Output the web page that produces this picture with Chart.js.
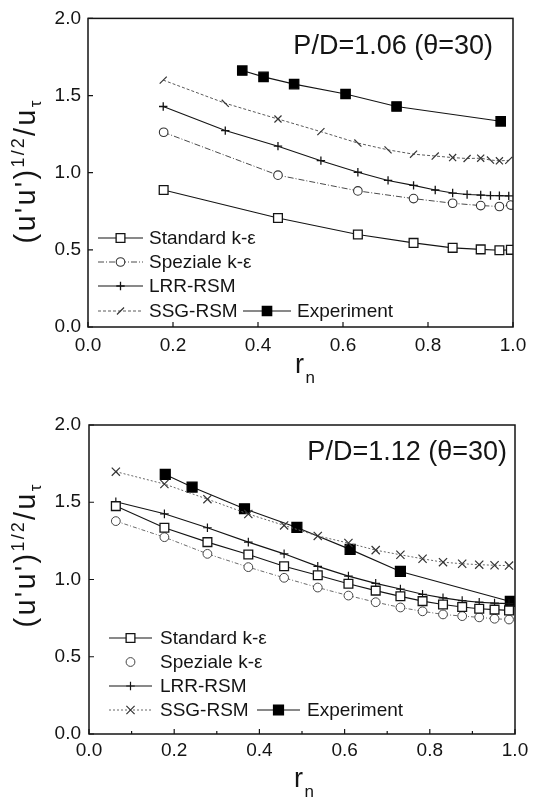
<!DOCTYPE html>
<html>
<head>
<meta charset="utf-8">
<script src="https://cdn.jsdelivr.net/npm/chart.js@4.4.1/dist/chart.umd.min.js"></script>
<style>
html,body{margin:0;padding:0;background:#fff;}
.wrap{position:absolute;left:0;width:536px;height:400px;}
canvas{display:block;}
</style>
</head>
<body>
<div class="wrap" style="top:0px"><canvas id="c1" width="536" height="400"></canvas></div>
<div class="wrap" style="top:400px"><canvas id="c2" width="536" height="400"></canvas></div>
<script>
// ---------------- DATA ----------------
const seriesNames = ["Standard k-\u03b5", "Speziale k-\u03b5", "LRR-RSM", "SSG-RSM", "Experiment"];
const xTicks = [0.0, 0.2, 0.4, 0.6, 0.8, 1.0];
const yTicks = [0.0, 0.5, 1.0, 1.5, 2.0];
const topTitle = "P/D=1.06 (\u03b8=30)";
const botTitle = "P/D=1.12 (\u03b8=30)";

// Top panel (P/D = 1.06)
const topKeR   = [0.178, 0.447, 0.635, 0.766, 0.858, 0.924, 0.968, 0.995];
const topStdV  = [0.888, 0.706, 0.600, 0.545, 0.513, 0.503, 0.497, 0.500];
const topSpzV  = [1.262, 0.984, 0.882, 0.832, 0.802, 0.787, 0.781, 0.790];
const topRsmR  = [0.177, 0.323, 0.447, 0.548, 0.635, 0.706, 0.766, 0.817, 0.858, 0.892, 0.924, 0.947, 0.968, 0.990];
const topLrrV  = [1.429, 1.273, 1.172, 1.078, 1.003, 0.950, 0.918, 0.888, 0.868, 0.859, 0.855, 0.852, 0.851, 0.850];
const topSsgV  = [1.600, 1.450, 1.348, 1.266, 1.192, 1.148, 1.120, 1.108, 1.098, 1.092, 1.094, 1.082, 1.077, 1.080];
const topExpR  = [0.363, 0.413, 0.485, 0.606, 0.726, 0.971];
const topExpV  = [1.662, 1.621, 1.574, 1.510, 1.429, 1.333];

// Bottom panel (P/D = 1.12)
const botR     = [0.063, 0.177, 0.278, 0.374, 0.458, 0.537, 0.609, 0.673, 0.731, 0.783, 0.831, 0.876, 0.916, 0.952, 0.986];
const botStdV  = [1.475, 1.335, 1.242, 1.162, 1.086, 1.027, 0.972, 0.928, 0.891, 0.860, 0.838, 0.822, 0.811, 0.805, 0.800];
const botSpzV  = [1.378, 1.274, 1.166, 1.080, 1.011, 0.948, 0.896, 0.853, 0.819, 0.794, 0.774, 0.763, 0.755, 0.746, 0.741];
const botLrrV  = [1.503, 1.425, 1.335, 1.242, 1.166, 1.085, 1.022, 0.975, 0.938, 0.904, 0.881, 0.863, 0.853, 0.847, 0.844];
const botSsgV  = [1.698, 1.618, 1.520, 1.424, 1.350, 1.282, 1.236, 1.190, 1.160, 1.134, 1.112, 1.102, 1.096, 1.092, 1.090];
const botExpR  = [0.179, 0.242, 0.365, 0.488, 0.613, 0.731, 0.989];
const botExpV  = [1.680, 1.598, 1.458, 1.337, 1.195, 1.052, 0.858];

// ---------------- HELPERS ----------------
const FONT = '"Liberation Sans", Arial, Helvetica, sans-serif';
const INK = '#141414';
const pts = (xs, ys) => xs.map((x, i) => ({x: x, y: ys[i]}));

function marker(ctx, style, x, y, r, fill, stroke, lw, rot) {
  ctx.save();
  ctx.lineWidth = lw; ctx.strokeStyle = stroke; ctx.fillStyle = fill; ctx.setLineDash([]);
  ctx.beginPath();
  if (style === 'rect') { const s = r * Math.SQRT1_2; ctx.rect(x - s, y - s, 2 * s, 2 * s); ctx.fill(); ctx.stroke(); }
  else if (style === 'circle') { ctx.arc(x, y, r, 0, 2 * Math.PI); ctx.fill(); ctx.stroke(); }
  else if (style === 'cross') { ctx.moveTo(x - r, y); ctx.lineTo(x + r, y); ctx.moveTo(x, y - r); ctx.lineTo(x, y + r); ctx.stroke(); }
  else if (style === 'crossRot') { const d = r * Math.SQRT1_2; ctx.moveTo(x - d, y - d); ctx.lineTo(x + d, y + d); ctx.moveTo(x - d, y + d); ctx.lineTo(x + d, y - d); ctx.stroke(); }
  else if (style === 'line') { const a = (rot || 0) * Math.PI / 180; const dx = Math.cos(a) * r, dy = Math.sin(a) * r; ctx.moveTo(x - dx, y - dy); ctx.lineTo(x + dx, y + dy); ctx.stroke(); }
  ctx.restore();
}

function drawParts(ctx, parts, x, y, spacing, measureOnly) {
  let cx = x;
  parts.forEach(p => {
    ctx.font = p.w + ' ' + p.f + 'px ' + FONT;
    for (const ch of p.t) {
      if (!measureOnly) ctx.fillText(ch, cx, y + (p.dy || 0));
      cx += ctx.measureText(ch).width + spacing;
    }
  });
  return cx - x - spacing;
}

const decoPlugin = {
  id: 'deco',
  afterDraw(chart, args, o) {
    const ctx = chart.ctx;
    const a = chart.chartArea;
    const xs = chart.scales.x, ys = chart.scales.y;
    ctx.save();
    // frame
    ctx.strokeStyle = INK; ctx.lineWidth = 1.5; ctx.setLineDash([]);
    ctx.strokeRect(a.left, a.top, a.right - a.left, a.bottom - a.top);
    // inward ticks
    ctx.lineWidth = 1.2;
    ctx.beginPath();
    xTicks.forEach(v => { const p = xs.getPixelForValue(v); ctx.moveTo(p, a.bottom); ctx.lineTo(p, a.bottom - 5); });
    yTicks.forEach(v => { const p = ys.getPixelForValue(v); ctx.moveTo(a.left, p); ctx.lineTo(a.left + 5, p); });
    if (o.minor) {
      xTicks.slice(0, -1).forEach(v => { const p = xs.getPixelForValue(v + 0.1); ctx.moveTo(p, a.bottom); ctx.lineTo(p, a.bottom - 3); });
    }
    ctx.stroke();

    ctx.fillStyle = INK;
    // annotation
    ctx.font = '27px ' + FONT; ctx.textAlign = 'right'; ctx.textBaseline = 'alphabetic';
    ctx.fillText(o.title, o.titleX, o.titleY);

    // y axis title (rotated)
    ctx.textAlign = 'left';
    const yParts = [
      {t: "(u'u')", f: 29, w: 'normal', dy: 0},
      {t: "1/2", f: 18, w: 'normal', dy: -11},
      {t: "/u", f: 29, w: 'normal', dy: 0},
      {t: "\u03c4", f: 17, w: 'normal', dy: 6}
    ];
    const sp = 2.2;
    const L = drawParts(ctx, yParts, 0, 0, sp, true);
    ctx.save();
    ctx.translate(o.yTitleX, o.yTitleCY);
    ctx.rotate(-Math.PI / 2);
    drawParts(ctx, yParts, -L / 2, 0, sp, false);
    ctx.restore();

    // x axis title
    const xParts = [{t: "r", f: 27, w: 'normal', dy: 0}, {t: "n", f: 17, w: 'normal', dy: 10}];
    drawParts(ctx, xParts, o.xTitleX, o.xTitleY, 1.5, false);

    // legend
    ctx.textBaseline = 'middle';
    o.legend.forEach(it => {
      const ds = chart.data.datasets[it.ds];
      if (it.line) {
        ctx.save();
        ctx.strokeStyle = ds.borderColor; ctx.lineWidth = ds.borderWidth;
        ctx.setLineDash(ds.borderDash || []);
        ctx.beginPath(); ctx.moveTo(it.x1, it.y); ctx.lineTo(it.x2, it.y); ctx.stroke();
        ctx.restore();
      }
      marker(ctx, it.ps, (it.x1 + it.x2) / 2, it.y, ds.pointRadius, ds.pointBackgroundColor, ds.pointBorderColor, ds.pointBorderWidth, it.rot);
      ctx.fillStyle = INK; ctx.font = '19px ' + FONT; ctx.textAlign = 'left';
      ctx.fillText(seriesNames[it.ds], it.tx, it.y + 1);
    });
    ctx.restore();
  }
};

function axisOpts(g) {
  const fmt = v => Number(v).toFixed(1);
  return {
    x: {
      type: 'linear', min: 0, max: 1,
      ticks: {stepSize: 0.2, callback: fmt, color: INK, font: {family: FONT, size: 19}, padding: g.xPad, maxRotation: 0, autoSkip: false},
      grid: {display: false, drawTicks: false}, border: {display: false},
      afterFit(s) { s.height = 400 - g.bottom; }
    },
    y: {
      type: 'linear', min: 0, max: 2,
      ticks: {stepSize: 0.5, callback: fmt, color: INK, font: {family: FONT, size: 19}, padding: g.yPad},
      grid: {display: false, drawTicks: false}, border: {display: false},
      afterFit(s) { s.width = g.left; }
    }
  };
}

function makeChart(id, g, datasets, deco) {
  return new Chart(document.getElementById(id), {
    type: 'scatter',
    data: {datasets: datasets},
    options: {
      responsive: false, animation: false,
      layout: {padding: {left: 0, right: 536 - g.right, top: g.top, bottom: 0}},
      scales: axisOpts(g),
      plugins: {legend: {display: false}, tooltip: {enabled: false}, deco: deco},
      elements: {line: {tension: 0}}
    },
    plugins: [decoPlugin]
  });
}

function ds(data, o) {
  return Object.assign({
    data: data, showLine: true, fill: false, tension: 0,
    borderColor: INK, borderWidth: 1.1, borderDash: [],
    pointStyle: 'rect', pointRadius: 6.2, pointBorderWidth: 1.3,
    pointBackgroundColor: '#ffffff', pointBorderColor: INK, pointRotation: 0
  }, o);
}

// ---------------- TOP CHART ----------------
const ssgTopStyles = ['line', 'line', 'crossRot', 'line', 'line', 'line', 'line', 'line', 'crossRot', 'line', 'crossRot', 'line', 'crossRot', 'line'];
const ssgTopRot    = [-45, 45, 0, -45, 45, 45, -45, -45, 0, -45, 0, 45, 0, -45];
makeChart('c1',
  {left: 88, right: 513, top: 15, bottom: 327, xPad: 7, yPad: 7},
  [
    ds(pts(topKeR, topStdV), {}),
    ds(pts(topKeR, topSpzV), {borderColor: '#4a4a4a', borderDash: [6, 2, 1, 2], borderWidth: 1, pointStyle: 'circle', pointRadius: 4.3, pointBorderColor: '#333', pointBorderWidth: 1.1}),
    ds(pts(topRsmR, topLrrV), {pointStyle: 'cross', pointRadius: 4.2, pointBorderWidth: 1.3}),
    ds(pts(topRsmR, topSsgV), {borderColor: '#5a5a5a', borderDash: [3, 2], borderWidth: 1, pointStyle: ssgTopStyles, pointRotation: ssgTopRot, pointRadius: 5, pointBorderWidth: 1.2, pointBorderColor: '#333'}),
    ds(pts(topExpR, topExpV), {pointStyle: 'rect', pointRadius: 6.6, pointBackgroundColor: '#000', pointBorderColor: '#000'})
  ],
  {
    title: topTitle, titleX: 493, titleY: 54, minor: false,
    yTitleX: 35, yTitleCY: 172, xTitleX: 295, xTitleY: 373,
    legend: [
      {ds: 0, ps: 'rect', line: true, x1: 98, x2: 143, y: 238, tx: 149},
      {ds: 1, ps: 'circle', line: true, x1: 98, x2: 143, y: 262, tx: 149},
      {ds: 2, ps: 'cross', line: true, x1: 98, x2: 143, y: 286, tx: 149},
      {ds: 3, ps: 'line', rot: -45, line: true, x1: 98, x2: 143, y: 311, tx: 149},
      {ds: 4, ps: 'rect', line: true, x1: 243, x2: 291, y: 311, tx: 297}
    ]
  }
);

// ---------------- BOTTOM CHART ----------------
makeChart('c2',
  {left: 89, right: 515, top: 25, bottom: 334, xPad: 5, yPad: 8},
  [
    ds(pts(botR, botStdV), {}),
    ds(pts(botR, botSpzV), {borderColor: '#6a6a6a', borderDash: [4, 2, 1, 2], borderWidth: 1, pointStyle: 'circle', pointRadius: 4.4, pointBorderColor: '#444', pointBorderWidth: 1}),
    ds(pts(botR, botLrrV), {pointStyle: 'cross', pointRadius: 4.3, pointBorderWidth: 1.2}),
    ds(pts(botR, botSsgV), {borderColor: '#666', borderDash: [2, 2], borderWidth: 1, pointStyle: 'crossRot', pointRadius: 5.8, pointBorderWidth: 1.2, pointBorderColor: '#333'}),
    ds(pts(botExpR, botExpV), {pointStyle: 'rect', pointRadius: 7, pointBackgroundColor: '#000', pointBorderColor: '#000'})
  ],
  {
    title: botTitle, titleX: 507, titleY: 60, minor: true,
    yTitleX: 35, yTitleCY: 156, xTitleX: 294, xTitleY: 387,
    legend: [
      {ds: 0, ps: 'rect', line: true, x1: 109, x2: 152, y: 238, tx: 160},
      {ds: 1, ps: 'circle', line: false, x1: 109, x2: 152, y: 262, tx: 160},
      {ds: 2, ps: 'cross', line: true, x1: 109, x2: 152, y: 286, tx: 160},
      {ds: 3, ps: 'crossRot', line: true, x1: 109, x2: 152, y: 310, tx: 160},
      {ds: 4, ps: 'rect', line: true, x1: 257, x2: 300, y: 310, tx: 307}
    ]
  }
);
</script>
</body>
</html>
